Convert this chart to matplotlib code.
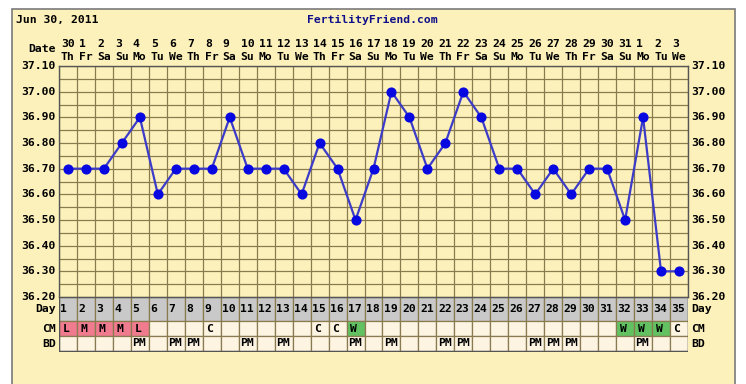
import matplotlib
matplotlib.use("Agg")
import matplotlib.pyplot as plt
from matplotlib.patches import Rectangle

# ---------------- data ----------------
date_nums = ["30", "1", "2", "3", "4", "5", "6", "7", "8", "9", "10", "11", "12", "13", "14",
             "15", "16", "17", "18", "19", "20", "21", "22", "23", "24", "25", "26", "27",
             "28", "29", "30", "31", "1", "2", "3"]
weekdays = ["Th", "Fr", "Sa", "Su", "Mo", "Tu", "We"] * 5
cycle_days = list(range(1, 36))
temps = [36.70, 36.70, 36.70, 36.80, 36.90, 36.60, 36.70, 36.70, 36.70, 36.90,
         36.70, 36.70, 36.70, 36.60, 36.80, 36.70, 36.50, 36.70, 37.00, 36.90,
         36.70, 36.80, 37.00, 36.90, 36.70, 36.70, 36.60, 36.70, 36.60, 36.70,
         36.70, 36.50, 36.90, 36.30, 36.30]
cm = ["L", "M", "M", "M", "L", "", "", "", "C", "", "", "", "", "", "C", "C", "W", "",
      "", "", "", "", "", "", "", "", "", "", "", "", "", "W", "W", "W", "C"]
period_days = [1, 2, 3, 4, 5]
bd = ["", "", "", "", "PM", "", "PM", "PM", "", "", "PM", "", "PM", "", "", "", "PM", "",
      "PM", "", "", "PM", "PM", "", "", "", "PM", "PM", "PM", "", "", "", "PM", "", ""]
y_ticks = [37.10, 37.00, 36.90, 36.80, 36.70, 36.60, 36.50, 36.40, 36.30, 36.20]

# ---------------- style ----------------
W, H = 746, 384
BG = "#fdf1bb"
GRID = "#8a7a50"
FONT = dict(family="DejaVu Sans Mono", weight="bold", size=8.2)

fig = plt.figure(figsize=(W / 100, H / 100), dpi=100)
fig.patch.set_facecolor("white")

def fx(px):
    return px / W

def fy(py):
    return 1 - py / H

# outer panel (runs off the bottom edge)
fig.add_artist(Rectangle((fx(12), fy(400)), fx(735) - fx(12), fy(9) - fy(400),
                         transform=fig.transFigure, facecolor=BG, edgecolor="#7a7a7a",
                         linewidth=1.2, zorder=0))

L, R, T, B = 59, 688, 66, 297
ax = fig.add_axes([fx(L), fy(B), fx(R) - fx(L), fy(T) - fy(B)])
ax.set_facecolor(BG)
n = len(temps)
ax.set_xlim(0.5, n + 0.5)
ax.set_ylim(36.20, 37.10)
for i in range(n + 1):
    ax.axvline(0.5 + i, color=GRID, lw=0.9, zorder=1)
k = 0
while 36.20 + 0.05 * k <= 37.1001:
    ax.axhline(36.20 + 0.05 * k, color=GRID, lw=0.9, zorder=1)
    k += 1
for s in ax.spines.values():
    s.set_color("#555555")
    s.set_linewidth(1.0)
ax.set_xticks([])
ax.set_yticks([])

ax.plot(cycle_days, temps, color="#3c3cc8", lw=1.6, zorder=3)
ax.plot(cycle_days, temps, "o", color="#0808e0", ms=6.3, zorder=4)

# y labels both sides
ytr = ax.get_yaxis_transform()
for v in y_ticks:
    ax.text(-3 / (R - L), v, f"{v:.2f}", transform=ytr, ha="right", va="center",
            **FONT, clip_on=False)
    ax.text(1 + 3 / (R - L), v, f"{v:.2f}", transform=ytr, ha="left", va="center",
            **FONT, clip_on=False)

# top date labels
xtr = ax.get_xaxis_transform()
pad = 2 / 18
for i, (d, w) in enumerate(zip(date_nums, weekdays)):
    x = i + 1 - 0.5 + pad
    ax.text(x, (B - 44) / (B - T), d, transform=xtr, ha="left", va="center", **FONT,
            clip_on=False)
    ax.text(x, (B - 57) / (B - T), w, transform=xtr, ha="left", va="center", **FONT,
            clip_on=False)
ax.text(-3 / (R - L), (B - 49) / (B - T), "Date", transform=ax.transAxes, ha="right",
        va="center", **FONT)

# top header
fig.text(fx(16), fy(20), "Jun 30, 2011", ha="left", va="center", **FONT)
fig.text(fx(372), fy(20), "FertilityFriend.com", ha="center", va="center",
         color="#10108a", **FONT)

# table below
TB = 352
tax = fig.add_axes([fx(L), fy(TB), fx(R) - fx(L), fy(B) - fy(TB)])
tax.set_xlim(0.5, n + 0.5)
tax.set_ylim(TB - B, 0)
tax.axis("off")
rows = [(0, 24, "Day"), (24, 39, "CM"), (39, 55, "BD")]
for i in range(n):
    day = cycle_days[i]
    x0 = day - 0.5
    tax.add_patch(Rectangle((x0, 0), 1, 24, facecolor="#c9c9c9", edgecolor=GRID, lw=0.9))
    tax.text(x0 + 1.5 / 18, 12, str(day), ha="left", va="center", **FONT)
    c = cm[i]
    if day in period_days:
        fc = "#f07a8e"
    elif c == "W":
        fc = "#62c262"
    else:
        fc = "#fdf4e2"
    tax.add_patch(Rectangle((x0, 24), 1, 15, facecolor=fc, edgecolor=GRID, lw=0.9))
    if c:
        tax.text(x0 + 3.5 / 18, 31.5, c, ha="left", va="center", **FONT)
    tax.add_patch(Rectangle((x0, 39), 1, 15, facecolor="#fdf4e2", edgecolor=GRID, lw=0.9))
    if bd[i]:
        tax.text(x0 + 1.5 / 18, 46.5, bd[i], ha="left", va="center", **FONT)
tax.add_patch(Rectangle((0.5, 0), n, 54, facecolor="none", edgecolor="#555555", lw=1.0))
for y0, y1, lab in rows:
    ym = (y0 + y1) / 2
    tax.text(0.5 - 3 / 18, ym, lab, ha="right", va="center", **FONT, clip_on=False)
    tax.text(n + 0.5 + 3 / 18, ym, lab, ha="left", va="center", **FONT, clip_on=False)

fig.savefig("out.png", dpi=100, facecolor="white")
